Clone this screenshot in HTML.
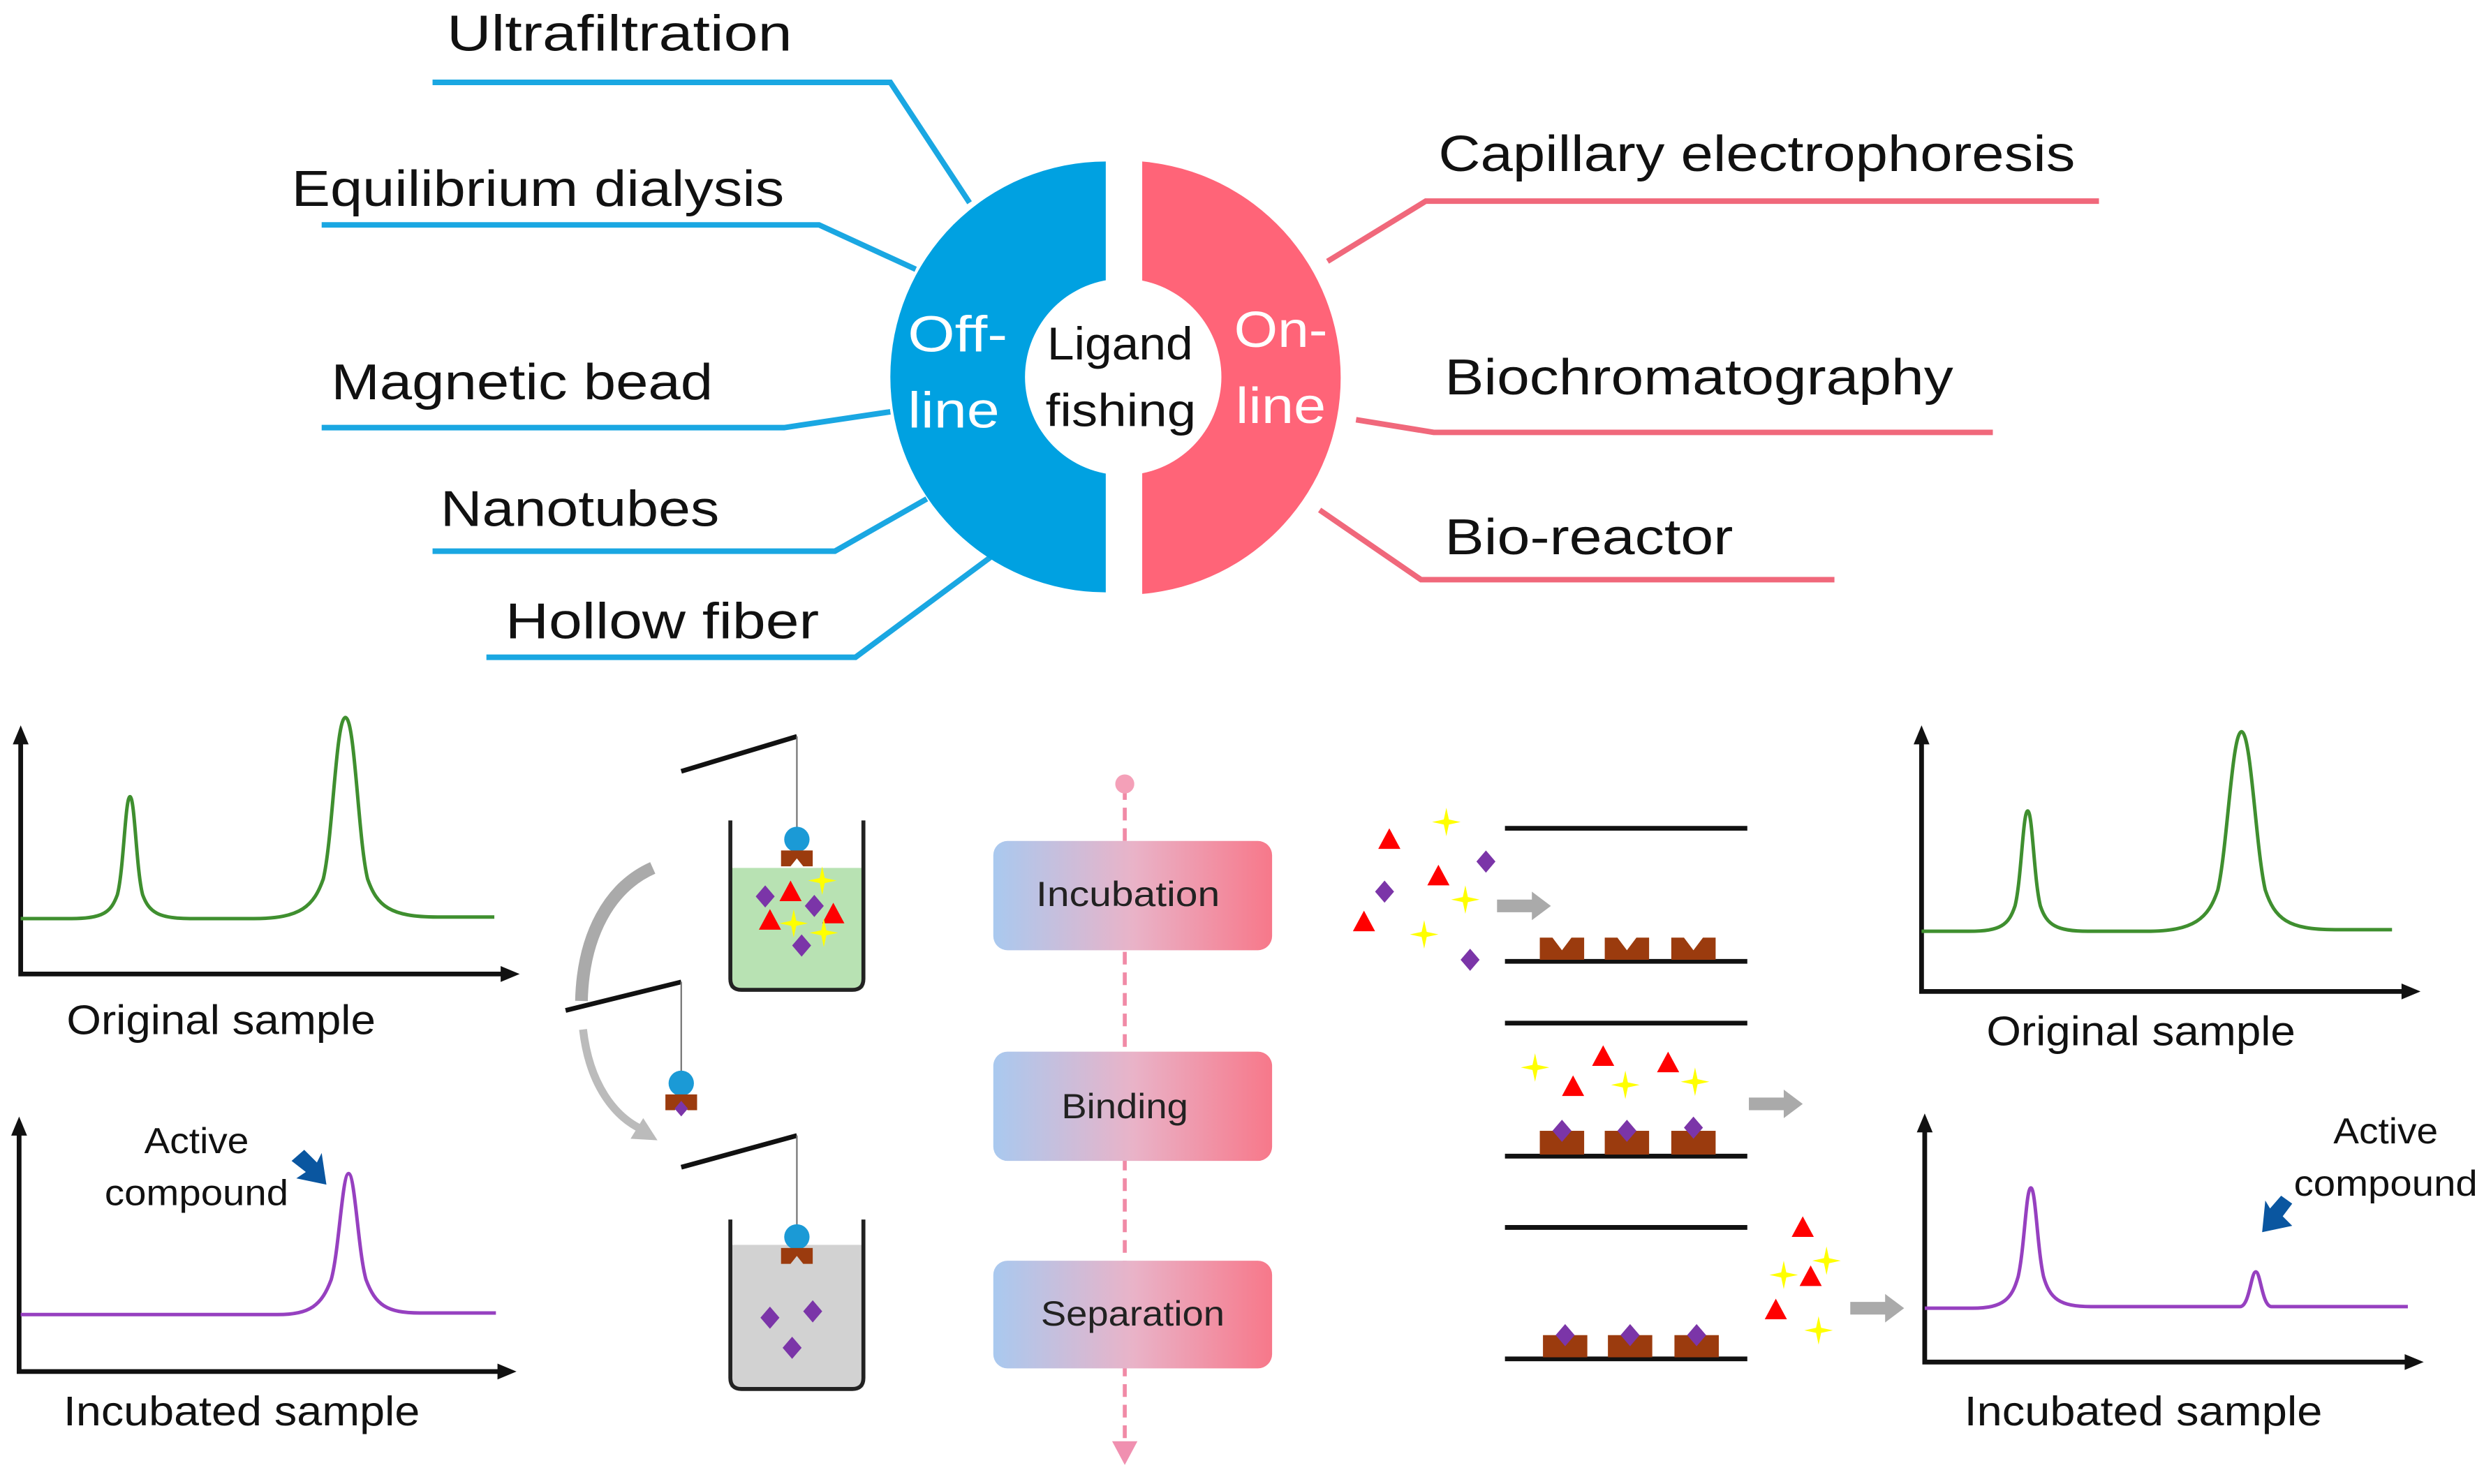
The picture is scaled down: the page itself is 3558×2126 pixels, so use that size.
<!DOCTYPE html>
<html><head><meta charset="utf-8"><style>
html,body{margin:0;padding:0;background:#fff}
svg{display:block}
text{font-family:"Liberation Sans",sans-serif}
</style></head><body>
<svg width="3558" height="2126" viewBox="0 0 1568 937" xmlns="http://www.w3.org/2000/svg">
<defs>
<linearGradient id="g" x1="0" x2="1" y1="0" y2="0"><stop offset="0" stop-color="#a9c9ef"/><stop offset="0.5" stop-color="#e9b3c8"/><stop offset="1" stop-color="#f7788a"/></linearGradient>
<path id="dia" d="M0,-7 L6,0 L0,7 L-6,0Z" fill="#7b35a8"/>
<path id="tri" d="M0,-7 L7,6 L-7,6Z" fill="#f00"/>
<path id="star" d="M0,-9 L1.6,-1.6 L9,0 L1.6,1.6 L0,9 L-1.6,1.6 L-9,0 L-1.6,-1.6Z" fill="#ffff00"/>
<path id="rec" d="M0,0 L8,0 L14,8 L20,0 L28,0 L28,14 L0,14Z" fill="#9b3b0e"/>
<g id="garr"><path d="M0,-4 L22,-4 L22,-9 L34,0 L22,9 L22,4 L0,4Z" fill="#aaa"/></g>
</defs>

<!-- top connectors -->
<g fill="none" stroke="#1aa7e2" stroke-width="3.5">
<polyline points="273,52 562,52 612,128"/>
<polyline points="203,142 517,142 578,170"/>
<polyline points="203,270 495,270 562,260"/>
<polyline points="273,348 527,348 585,315"/>
<polyline points="307,415 540,415 625,352"/>
</g>
<g fill="none" stroke="#f0687b" stroke-width="3.5">
<polyline points="838,165 900,127 1325,127"/>
<polyline points="856,265 905,273 1258,273"/>
<polyline points="833,322 897,366 1158,366"/>
</g>
<g font-size="32" fill="#111" lengthAdjust="spacingAndGlyphs">
<text x="282" y="32" textLength="218" lengthAdjust="spacingAndGlyphs">Ultrafiltration</text>
<text x="184" y="130" textLength="311" lengthAdjust="spacingAndGlyphs">Equilibrium dialysis</text>
<text x="209" y="252" textLength="241" lengthAdjust="spacingAndGlyphs">Magnetic bead</text>
<text x="278" y="332" textLength="176" lengthAdjust="spacingAndGlyphs">Nanotubes</text>
<text x="319" y="403" textLength="198" lengthAdjust="spacingAndGlyphs">Hollow fiber</text>
<text x="908" y="108" textLength="402" lengthAdjust="spacingAndGlyphs">Capillary electrophoresis</text>
<text x="912" y="249" textLength="321" lengthAdjust="spacingAndGlyphs">Biochromatography</text>
<text x="912" y="350" textLength="182" lengthAdjust="spacingAndGlyphs">Bio-reactor</text>
</g>
<!-- donut -->
<path d="M698,102 A136,136 0 0 0 698,374 Z" fill="#00a1e1"/>
<path d="M721,102 A137,137 0 0 1 721,375 Z" fill="#ff6478"/>
<circle cx="709" cy="238" r="62" fill="#fff"/>
<g font-size="32" fill="#fff">
<text x="573" y="222" textLength="63" lengthAdjust="spacingAndGlyphs">Off-</text><text x="573" y="270" textLength="58" lengthAdjust="spacingAndGlyphs">line</text>
<text x="779" y="219" textLength="59" lengthAdjust="spacingAndGlyphs">On-</text><text x="780" y="267" textLength="57" lengthAdjust="spacingAndGlyphs">line</text>
</g>
<g font-size="29" fill="#111">
<text x="661" y="227" textLength="92" lengthAdjust="spacingAndGlyphs">Ligand</text><text x="660" y="269" textLength="95" lengthAdjust="spacingAndGlyphs">fishing</text>
</g>

<!-- charts -->
<g stroke="#111" stroke-width="3" fill="none">
<polyline points="13,465 13,615 322,615"/>
<polyline points="12,712 12,866 320,866"/>
<polyline points="1213,465 1213,626 1522,626"/>
<polyline points="1215,710 1215,860 1524,860"/>
</g>
<g fill="#111">
<path d="M13,458 L8,470 L18,470Z"/><path d="M328,615 L316,610 L316,620Z"/>
<path d="M12,705 L7,717 L17,717Z"/><path d="M326,866 L314,861 L314,871Z"/>
<path d="M1213,458 L1208,470 L1218,470Z"/><path d="M1528,626 L1516,621 L1516,631Z"/>
<path d="M1215,703 L1210,715 L1220,715Z"/><path d="M1530,860 L1518,855 L1518,865Z"/>
</g>
<g fill="none" stroke-width="2.2">
<path stroke="#3f8f2f" d="M13,580 L45,580 C65,580 70,576 74,565 C78,550 79,503 82,503 C85,503 86,550 90,565 C94,576 100,580 120,580 L160,580 C190,580 198,572 204,555 C210,530 212,453 218,453 C224,453 226,530 232,555 C238,572 246,579 276,579 L312,579"/>
<path stroke="#9640c0" d="M13,830 L175,830 C196,830 203,824 209,808 C214,790 216,741 220,741 C224,741 226,790 231,808 C237,824 244,829 265,829 L313,829"/>
<path stroke="#3f8f2f" d="M1213,588 L1243,588 C1263,588 1268,584 1272,572 C1276,556 1277,512 1280,512 C1283,512 1284,556 1288,572 C1292,584 1298,588 1318,588 L1355,588 C1385,588 1394,580 1400,562 C1406,536 1409,462 1415,462 C1421,462 1424,536 1430,562 C1436,580 1444,587 1474,587 L1510,587"/>
<path stroke="#9640c0" d="M1215,826 L1245,826 C1265,826 1270,820 1274,806 C1278,788 1279,750 1282,750 C1285,750 1286,788 1290,806 C1294,820 1300,825 1320,825 L1414,825 C1420,825 1421,803 1424,803 C1427,803 1428,825 1434,825 L1520,825"/>
</g>
<g font-size="26" fill="#111">
<text x="42" y="653" textLength="195" lengthAdjust="spacingAndGlyphs">Original sample</text>
<text x="40" y="900" textLength="225" lengthAdjust="spacingAndGlyphs">Incubated sample</text>
<text x="1254" y="660" textLength="195" lengthAdjust="spacingAndGlyphs">Original sample</text>
<text x="1240" y="900" textLength="226" lengthAdjust="spacingAndGlyphs">Incubated sample</text>
</g>
<g font-size="23" fill="#111">
<text x="91" y="728" textLength="66" lengthAdjust="spacingAndGlyphs">Active</text><text x="66" y="761" textLength="116" lengthAdjust="spacingAndGlyphs">compound</text>
<text x="1473" y="722" textLength="66" lengthAdjust="spacingAndGlyphs">Active</text><text x="1448" y="755" textLength="116" lengthAdjust="spacingAndGlyphs">compound</text>
</g>
<path d="M184,733 L192,726 L200,734 L203,728 L206,748 L187,744 L193,740Z" fill="#0a56a0"/>
<path d="M1447,760 L1440,755 L1433,763 L1430,758 L1428,778 L1447,774 L1441,768Z" fill="#0a56a0"/>

<!-- beakers -->
<rect x="461" y="548" width="84" height="76" fill="#b8e2b3"/>
<rect x="461" y="786" width="84" height="90" fill="#d2d2d2"/>
<g fill="none" stroke="#222" stroke-width="2.5">
<path d="M461,518 L461,618 Q461,625 468,625 L538,625 Q545,625 545,618 L545,518"/>
<path d="M461,770 L461,870 Q461,877 468,877 L538,877 Q545,877 545,870 L545,770"/>
</g>
<g stroke="#111" stroke-width="3"><line x1="430" y1="487" x2="503" y2="465"/><line x1="357" y1="638" x2="430" y2="620"/><line x1="430" y1="737" x2="503" y2="717"/></g>
<g stroke="#777" stroke-width="1"><line x1="503" y1="465" x2="503" y2="525"/><line x1="430" y1="620" x2="430" y2="678"/><line x1="503" y1="717" x2="503" y2="775"/></g>
<g fill="#1b9ad6"><circle cx="503" cy="530" r="8"/><circle cx="430" cy="684" r="8"/><circle cx="503" cy="781" r="8"/></g>
<g fill="#9b3b0e">
<path d="M493,537 h20 v10 h-6 l-4,-5 l-4,5 h-6z"/>
<path d="M420,691 h20 v10 h-6 l-4,-5 l-4,5 h-6z"/>
<path d="M493,788 h20 v10 h-6 l-4,-5 l-4,5 h-6z"/>
</g>
<use href="#dia" transform="translate(430,700) scale(0.7)"/>
<use href="#dia" x="483" y="566"/><use href="#dia" x="514" y="572"/><use href="#dia" x="506" y="597"/>
<use href="#tri" x="499" y="563"/><use href="#tri" x="486" y="581"/><use href="#tri" x="526" y="577"/>
<use href="#star" x="519" y="556"/><use href="#star" x="501" y="583"/><use href="#star" x="520" y="589"/>
<use href="#dia" x="486" y="832"/><use href="#dia" x="513" y="828"/><use href="#dia" x="500" y="851"/>
<!-- curved arrows -->
<path d="M412,548 C385,560 368,590 367,632" fill="none" stroke="#aaa" stroke-width="8"/>
<path d="M368,650 C372,685 388,705 405,713" fill="none" stroke="#bbb" stroke-width="5"/>
<path d="M415,720 L398,719 L406,706Z" fill="#bbb"/>

<!-- middle -->
<line x1="710" y1="497" x2="710" y2="915" stroke="#f08aa6" stroke-width="2.5" stroke-dasharray="8,5"/>
<circle cx="710" cy="495" r="6" fill="#f4a0b8"/>
<path d="M710,925 L702,910 L718,910Z" fill="#f090b0"/>
<rect x="627" y="531" width="176" height="69" rx="9" fill="url(#g)"/>
<rect x="627" y="664" width="176" height="69" rx="9" fill="url(#g)"/>
<rect x="627" y="796" width="176" height="68" rx="9" fill="url(#g)"/>
<g font-size="22" fill="#222">
<text x="654" y="572" textLength="116" lengthAdjust="spacingAndGlyphs">Incubation</text><text x="670" y="706" textLength="80" lengthAdjust="spacingAndGlyphs">Binding</text><text x="657" y="837" textLength="116" lengthAdjust="spacingAndGlyphs">Separation</text>
</g>

<!-- right plates -->
<g stroke="#111" stroke-width="3">
<line x1="950" y1="523" x2="1103" y2="523"/><line x1="950" y1="607" x2="1103" y2="607"/>
<line x1="950" y1="646" x2="1103" y2="646"/><line x1="950" y1="730" x2="1103" y2="730"/>
<line x1="950" y1="775" x2="1103" y2="775"/><line x1="950" y1="858" x2="1103" y2="858"/>
</g>
<use href="#rec" x="972" y="592"/><use href="#rec" x="1013" y="592"/><use href="#rec" x="1055" y="592"/>
<rect x="972" y="714" width="28" height="15" fill="#9b3b0e"/><rect x="1013" y="714" width="28" height="15" fill="#9b3b0e"/><rect x="1055" y="714" width="28" height="15" fill="#9b3b0e"/>
<use href="#dia" x="986" y="714"/><use href="#dia" x="1027" y="714"/><use href="#dia" x="1069" y="712"/>
<rect x="974" y="843" width="28" height="14" fill="#9b3b0e"/><rect x="1015" y="843" width="28" height="14" fill="#9b3b0e"/><rect x="1057" y="843" width="28" height="14" fill="#9b3b0e"/>
<use href="#dia" x="988" y="843"/><use href="#dia" x="1029" y="843"/><use href="#dia" x="1071" y="843"/>
<use href="#tri" x="877" y="530"/><use href="#tri" x="908" y="553"/><use href="#tri" x="861" y="582"/>
<use href="#star" x="913" y="519"/><use href="#star" x="925" y="568"/><use href="#star" x="899" y="590"/>
<use href="#dia" x="938" y="544"/><use href="#dia" x="874" y="563"/><use href="#dia" x="928" y="606"/>
<use href="#star" x="969" y="674"/><use href="#star" x="1026" y="685"/><use href="#star" x="1070" y="683"/>
<use href="#tri" x="1012" y="667"/><use href="#tri" x="993" y="686"/><use href="#tri" x="1053" y="671"/>
<use href="#tri" x="1138" y="775"/><use href="#tri" x="1143" y="806"/><use href="#tri" x="1121" y="827"/>
<use href="#star" x="1153" y="796"/><use href="#star" x="1126" y="805"/><use href="#star" x="1148" y="840"/>
<use href="#garr" x="945" y="572"/><use href="#garr" x="1104" y="697"/><use href="#garr" x="1168" y="826"/>
</svg>
</body></html>
